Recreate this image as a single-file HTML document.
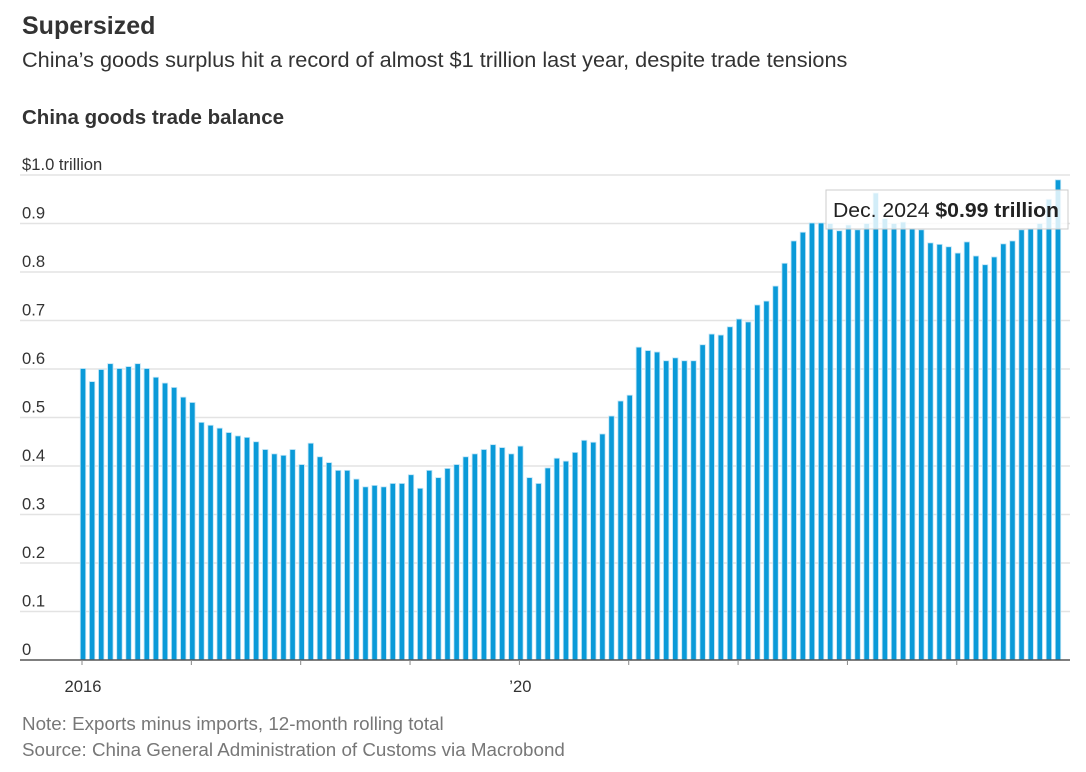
<!DOCTYPE html>
<html><head><meta charset="utf-8">
<style>
body{margin:0;width:1086px;height:772px;background:#fff;font-family:"Liberation Sans",sans-serif;color:#222;overflow:hidden;position:relative}
.t{position:absolute;left:22px;white-space:nowrap}
</style></head><body>
<div class="t" style="top:12px;font-size:25px;font-weight:bold;color:#333">Supersized</div>
<div class="t" style="top:47px;font-size:21.7px;color:#333">China’s goods surplus hit a record of almost $1 trillion last year, despite trade tensions</div>
<div class="t" style="top:106px;font-size:20.5px;font-weight:bold;color:#333">China goods trade balance</div>
<svg id="chart" width="1086" height="772" style="position:absolute;left:0;top:0"></svg>
<div class="t" style="top:713px;font-size:18.8px;color:#777">Note: Exports minus imports, 12-month rolling total</div>
<div class="t" style="top:739px;font-size:18.8px;color:#777">Source: China General Administration of Customs via Macrobond</div>
<script>
const values=[0.601,0.574,0.599,0.611,0.601,0.605,0.611,0.601,0.583,0.571,0.562,0.542,
0.531,0.490,0.484,0.478,0.469,0.462,0.459,0.450,0.434,0.425,0.422,0.434,
0.403,0.447,0.419,0.407,0.391,0.391,0.373,0.357,0.360,0.357,0.364,0.364,
0.382,0.354,0.391,0.376,0.395,0.403,0.419,0.425,0.434,0.444,0.438,0.425,
0.441,0.376,0.364,0.396,0.416,0.410,0.428,0.453,0.449,0.466,0.503,0.534,
0.546,0.645,0.638,0.635,0.617,0.623,0.617,0.617,0.650,0.672,0.670,0.687,
0.703,0.697,0.732,0.740,0.771,0.818,0.864,0.882,0.901,0.901,0.900,0.885,
0.897,0.887,0.900,0.963,0.910,0.900,0.903,0.890,0.887,0.860,0.857,0.852,
0.839,0.862,0.833,0.815,0.831,0.858,0.864,0.887,0.890,0.900,0.950,0.990];
const yTicks=[0,0.1,0.2,0.3,0.4,0.5,0.6,0.7,0.8,0.9,1.0];
const yTickLabels=["0","0.1","0.2","0.3","0.4","0.5","0.6","0.7","0.8","0.9","$1.0 trillion"];
const xLabels=[{i:0,t:"2016"},{i:48,t:"’20"}];
const svg=document.getElementById('chart');
const NS="http://www.w3.org/2000/svg";
const y0=660,y1=175,x0=83,step=(1058-83)/107;
const ys=v=>y0-(v/1.0)*(y0-y1);
const xs=i=>x0+i*step;
function mk(tag,at){const e=document.createElementNS(NS,tag);for(const k in at)e.setAttribute(k,at[k]);svg.appendChild(e);return e;}
yTicks.forEach((v,k)=>{
  if(v>0){const g=mk('line',{x1:20,x2:1070,y1:ys(v),y2:ys(v),stroke:'#e3e3e3','stroke-width':1.5});
  
  }
  const t=mk('text',{x:22,y:ys(v)-5,'font-size':16.6,fill:'#333','font-family':'Liberation Sans'});
  t.textContent=yTickLabels[k];
  
  
});
values.forEach((v,i)=>{
  const r=mk('rect',{x:xs(i)-2.7,y:ys(v),width:5.4,height:y0-ys(v),fill:'#0a9ad8',stroke:'#bfe4f6','stroke-width':0.8});
  
  
});
const ax=mk('line',{x1:20,x2:1070,y1:y0,y2:y0,stroke:'#555','stroke-width':1.5});


for(let yr=0;yr<9;yr++){
  const tk=mk('line',{x1:xs(yr*12)-1,x2:xs(yr*12)-1,y1:y0,y2:y0+5,stroke:'#888','stroke-width':1});
  
  
}
xLabels.forEach(l=>{
  const t=mk('text',{x:xs(l.i),y:692,'font-size':16.6,fill:'#333','text-anchor':'middle','font-family':'Liberation Sans'});
  t.textContent=l.t;
  
  
});
const last=values.length-1;
const tb=mk('rect',{x:826,y:190,width:242,height:39,fill:'rgba(255,255,255,0.82)',stroke:'#ccc','stroke-width':1});


const tt=mk('text',{x:833,y:217,'font-size':20.5,fill:'#222','font-family':'Liberation Sans',textLength:226,lengthAdjust:'spacingAndGlyphs'});


tt.innerHTML='Dec. 2024 <tspan font-weight="bold">$'+values[last].toFixed(2)+' trillion</tspan>';
</script>
</body></html>
